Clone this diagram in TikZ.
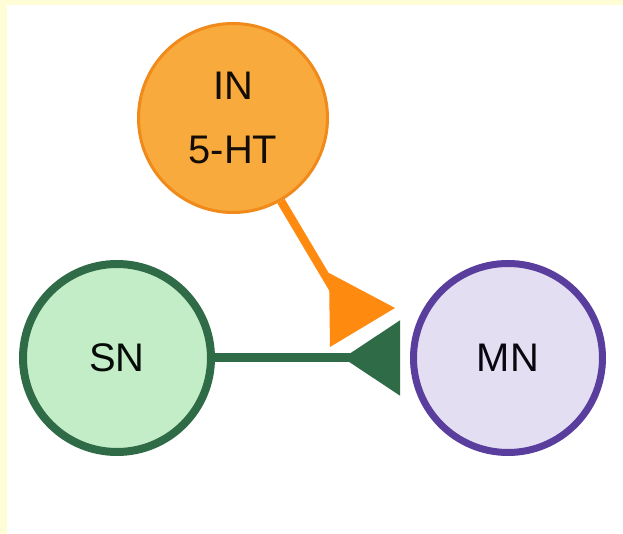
\documentclass[tikz,border=0pt]{standalone}
\usepackage{fontspec}
\setmainfont{Liberation Sans}
\usepackage{xcolor}
\usetikzlibrary{arrows.meta, positioning}

\definecolor{paper}{HTML}{FFFDD6}
\definecolor{infill}{HTML}{F9AA3C}
\definecolor{indraw}{HTML}{F08A1A}
\definecolor{inline}{HTML}{FF8A10}
\definecolor{snfill}{HTML}{C3EDC6}
\definecolor{sndraw}{HTML}{2F6B47}
\definecolor{mnfill}{HTML}{E4DEF2}
\definecolor{mndraw}{HTML}{5A3E9E}

\begin{document}
\begin{tikzpicture}[
  cell/.style={circle, minimum size=3.78cm, inner sep=0pt, align=center,
    font=\fontsize{22.7pt}{36.3pt}\selectfont},
  >=Stealth
]
% background
\fill[paper] (0,0) rectangle (12.46,10.68);
\fill[white] (0.14,0) rectangle (12.46,10.58);
\useasboundingbox (0,0) rectangle (12.46,10.68);

\node[cell, fill=infill, draw=indraw, line width=0.06cm, text=black!90!brown] (IN) at (4.66,8.32) {IN\\5-HT};
\node[cell, fill=snfill, draw=sndraw, line width=0.16cm, minimum size=3.76cm, text=black!90!sndraw] (SN) at (2.34,3.52) {SN};
\node[cell, fill=mnfill, draw=mndraw, line width=0.14cm, text=black!90!mndraw] (MN) at (10.16,3.52) {MN};

\coordinate (inEnd) at (6.70,4.84);
\coordinate (inTip) at (7.90,4.52);

% IN onto the SN-MN synapse
\draw[inline, line width=0.17cm] (IN.-60) -- (inEnd);
\fill[inline] (inTip) -- ++(-1.32,0.70) -- ++(0.02,-1.48) -- cycle;

% SN to MN
\draw[sndraw, line width=0.18cm, shorten >=0.2cm,
  -{Triangle[reversed, length=1.14cm, width=1.46cm]}]
  (SN) -- (MN);
\end{tikzpicture}
\end{document}
